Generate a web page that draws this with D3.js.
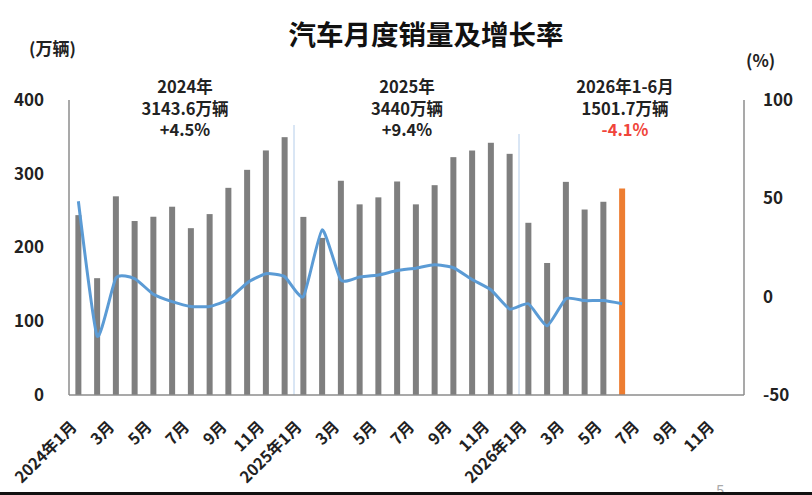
<!DOCTYPE html>
<html>
<head>
<meta charset="utf-8">
<script src="https://cdn.jsdelivr.net/npm/d3@7"></script>
<style>
  body { margin: 0; background: #fff; }
  svg { display: block; font-family: "Noto Sans CJK SC", "Noto Sans", sans-serif; }
</style>
</head>
<body>
<script>
// monthly sales (万辆)
var years = [2024, 2025, 2026];
var sales2024 = [243.9, 158.4, 269.4, 235.9, 241.7, 255.3, 226.2, 245.3, 280.9, 305.3, 331.6, 349.6];
var sales2025 = [241.5, 213, 290.5, 258.5, 268, 289.5, 258.5, 284.5, 322.5, 331.5, 342, 327];
var sales2026 = [233.5, 179, 289, 251.5, 262, 280];
// growth rate (%)
var growth2024 = [48.5, -20, 9.5, 9.2, 1.2, -2.5, -5, -5, -1.5, 7, 11.7, 10.2];
var growth2025 = [0, 34, 8.5, 10, 11, 13.3, 14.5, 16.2, 14.7, 8.7, 3.5, -6.3];
var growth2026 = [-3.6, -14.8, -1, -2, -2, -3.6];

var leftTicks = [0, 100, 200, 300, 400];
var rightTicks = [-50, 0, 50, 100];
var yearNotes = [
  ["2024年", "3143.6万辆", "+4.5%"],
  ["2025年", "3440万辆", "+9.4%"],
  ["2026年1-6月", "1501.7万辆", "-4.1%"]
];

var W = 812, H = 495;
var m = {left: 69, right: 744, top: 100, bottom: 395};

var months = [];
years.forEach(function(y){
  for (var i = 1; i <= 12; i++) months.push(i == 1 ? y + "年1月" : i + "月");
});
var sales = sales2024.concat(sales2025, sales2026);
var growth = growth2024.concat(growth2025, growth2026);

var svg = d3.select("body").append("svg").attr("width", W).attr("height", H);

var x = d3.scaleBand().domain(d3.range(months.length))
  .range([m.left, m.right]).paddingInner(0.68).paddingOuter(0.34);
var yL = d3.scaleLinear().domain([0, 400]).range([m.bottom, m.top]);
var yR = d3.scaleLinear().domain([-50, 100]).range([m.bottom, m.top]);
var cx = function(i){ return x(i) + x.bandwidth() / 2; };

// title
svg.append("text").attr("x", 426).attr("y", 45).attr("text-anchor", "middle")
  .style("font-size", "27.5px").style("font-weight", "bold").style("fill", "#111")
  .text("汽车月度销量及增长率");

svg.append("text").attr("x", 29).attr("y", 55).style("font-size", "17px")
  .style("font-weight", "bold").style("fill", "#222").text("(万辆)");
svg.append("text").attr("x", 746).attr("y", 67).style("font-size", "17px")
  .style("font-weight", "bold").style("fill", "#222").text("(%)");

// year separators
[[12, 125], [24, 134]].forEach(function(s){
  var sx = (cx(s[0] - 1) + cx(s[0])) / 2;
  svg.append("line").attr("x1", sx).attr("x2", sx).attr("y1", s[1]).attr("y2", m.bottom)
    .style("stroke", "#b4cdea").style("stroke-width", 1);
});

// bars
svg.selectAll(".bar")
  .data(sales)
  .enter().append("rect")
  .attr("class", "bar")
  .attr("x", function(d, i){ return x(i); })
  .attr("width", x.bandwidth())
  .attr("y", function(d){ return yL(d); })
  .attr("height", function(d){ return yL(0) - yL(d); })
  .style("fill", function(d, i){ return i == sales.length - 1 ? "#ed7d31" : "#7f7f7f"; });

// growth line
var line = d3.line()
  .x(function(d, i){ return cx(i); })
  .y(function(d){ return yR(d); })
  .curve(d3.curveCardinal.tension(0.5));
svg.append("path").datum(growth).attr("d", line)
  .style("fill", "none").style("stroke", "#5b9bd5").style("stroke-width", 3)
  .style("stroke-linejoin", "round");

// axis frame
var axisCol = "#8c8c8c";
svg.append("line").attr("x1", m.left).attr("x2", m.left).attr("y1", m.top).attr("y2", m.bottom)
  .style("stroke", axisCol).style("stroke-width", 1.5);
svg.append("line").attr("x1", m.right).attr("x2", m.right).attr("y1", m.top).attr("y2", m.bottom)
  .style("stroke", axisCol).style("stroke-width", 1.5);
svg.append("line").attr("x1", m.left).attr("x2", m.right).attr("y1", m.bottom).attr("y2", m.bottom)
  .style("stroke", axisCol).style("stroke-width", 1.5);

// tick labels
svg.selectAll(".lt").data(leftTicks).enter().append("text")
  .attr("x", 44).attr("y", function(d){ return yL(d); }).attr("dy", "0.35em")
  .attr("text-anchor", "end").style("font-size", "17px").style("font-weight", "bold")
  .style("fill", "#222").text(function(d){ return d; });
svg.selectAll(".rt").data(rightTicks).enter().append("text")
  .attr("x", 763).attr("y", function(d){ return yR(d); }).attr("dy", "0.35em")
  .style("font-size", "17px").style("font-weight", "bold")
  .style("fill", "#222").text(function(d){ return d; });

var xLabels = months.map(function(d, i){ return {t: d, i: i}; })
  .filter(function(d){ return d.i % 2 == 0; });
svg.selectAll(".xl").data(xLabels).enter().append("text")
  .attr("transform", function(d){ return "translate(" + (cx(d.i) - 0.5) + ",428) rotate(-45)"; })
  .attr("text-anchor", "end")
  .style("font-size", "16px").style("font-weight", "bold").style("fill", "#222")
  .text(function(d){ return d.t; });

// year notes
var noteX = [185, 407, 625];
yearNotes.forEach(function(n, k){
  n.forEach(function(t, j){
    svg.append("text").attr("x", noteX[k]).attr("y", 93 + j * 21.5)
      .attr("text-anchor", "middle").style("font-size", "16.5px").style("font-weight", "bold")
      .style("fill", k == 2 && j == 2 ? "#f0453a" : "#222").text(t);
  });
});

// page number and bottom strip
svg.append("text").attr("x", 716).attr("y", 496).style("font-size", "15px")
  .style("fill", "#aaa").text("5");
svg.append("rect").attr("x", 0).attr("y", 492).attr("width", W).attr("height", 3).style("fill", "#111");
</script>
</body>
</html>
